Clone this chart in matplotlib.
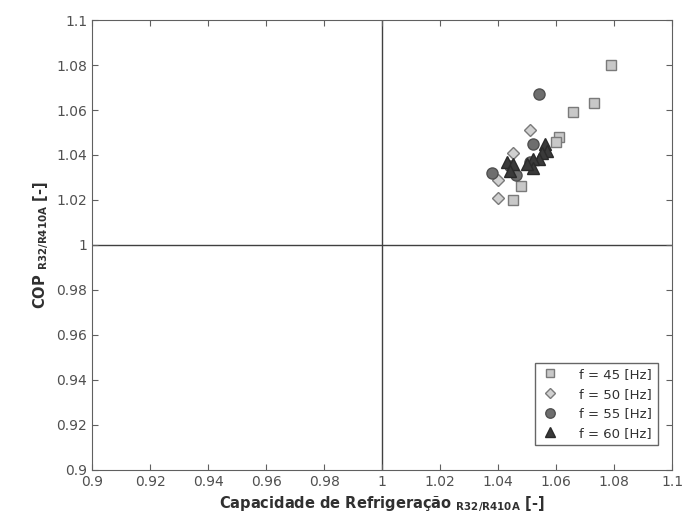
import matplotlib
matplotlib.use('Agg')
import matplotlib.pyplot as plt

# capacidade (x) e COP (y), razao R32/R410A
x45 = [1.079, 1.073, 1.066, 1.061, 1.060, 1.048, 1.045]
y45 = [1.080, 1.063, 1.059, 1.048, 1.046, 1.026, 1.020]

x50 = [1.051, 1.045, 1.040, 1.040]
y50 = [1.051, 1.041, 1.029, 1.021]

x55 = [1.054, 1.052, 1.038, 1.046, 1.044, 1.051]
y55 = [1.067, 1.045, 1.032, 1.031, 1.035, 1.037]

x60 = [1.056, 1.057, 1.055, 1.054, 1.052, 1.052, 1.043, 1.045, 1.044, 1.050]
y60 = [1.045, 1.042, 1.041, 1.038, 1.038, 1.034, 1.037, 1.036, 1.033, 1.036]

rotulos = ['f = 45 [Hz]', 'f = 50 [Hz]', 'f = 55 [Hz]', 'f = 60 [Hz]']
ticks = [0.9, 0.92, 0.94, 0.96, 0.98, 1, 1.02, 1.04, 1.06, 1.08, 1.1]
tick_txt = ['0.9', '0.92', '0.94', '0.96', '0.98', '1', '1.02', '1.04', '1.06', '1.08', '1.1']

fig = plt.figure(figsize=(6.83, 5.29), dpi=100)
ax = fig.add_axes([0.135, 0.112, 0.849, 0.85])

ax.axvline(1, color='#404040', lw=1.0, zorder=1)
ax.axhline(1, color='#404040', lw=1.0, zorder=1)

ax.plot(x45, y45, 's', ms=7, mfc='#c8c8c8', mec='#7a7a7a', mew=1.0, label=rotulos[0], zorder=3)
ax.plot(x50, y50, 'D', ms=6.5, mfc='#d0d0d0', mec='#7a7a7a', mew=1.0, label=rotulos[1], zorder=3)
ax.plot(x55, y55, 'o', ms=8, mfc='#6e6e6e', mec='#505050', mew=1.0, label=rotulos[2], zorder=4)
ax.plot(x60, y60, '^', ms=8, mfc='#3a3a3a', mec='#2a2a2a', mew=1.0, label=rotulos[3], zorder=5)

ax.set_xlim(0.9, 1.1)
ax.set_ylim(0.9, 1.1)
ax.set_xticks(ticks)
ax.set_xticklabels(tick_txt)
ax.set_yticks(ticks)
ax.set_yticklabels(tick_txt)
ax.tick_params(direction='in', top=True, right=True, length=4, color='#606060',
               labelsize=10, labelcolor='#505050')
for s in ax.spines.values():
    s.set_color('#606060')

ax.set_xlabel(r'Capacidade de Refrigeração $_{\mathbf{R32/R410A}}$ [-]',
              fontsize=10.5, fontweight='bold', color='#303030', labelpad=4)
ax.set_ylabel(r'COP $_{\mathbf{R32/R410A}}$ [-]',
              fontsize=10.5, fontweight='bold', color='#303030', labelpad=4)

leg = ax.legend(loc='lower right', bbox_to_anchor=(0.975, 0.055), fontsize=9.5,
                frameon=True, fancybox=False, edgecolor='#404040', borderaxespad=0,
                handletextpad=1.4, handlelength=1.6, labelspacing=0.5, borderpad=0.4,
                markerscale=0.85)
leg.get_frame().set_linewidth(1.0)
for t in leg.get_texts():
    t.set_color('#303030')

fig.savefig('out.png', dpi=100)
